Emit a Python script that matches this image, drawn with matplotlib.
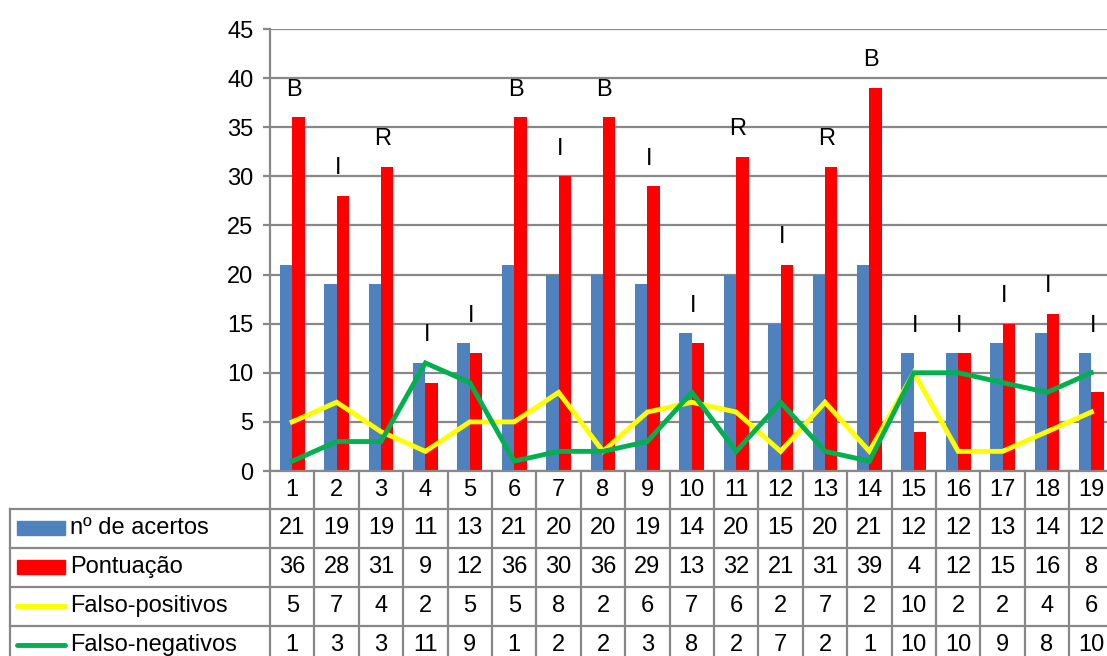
import matplotlib.pyplot as plt
import numpy as np
from matplotlib.transforms import blended_transform_factory
from matplotlib.patches import Rectangle
from matplotlib.lines import Line2D

plt.rcParams['font.family'] = ['Liberation Sans', 'DejaVu Sans']

categorias = [str(i) for i in range(1, 20)]
acertos = [21, 19, 19, 11, 13, 21, 20, 20, 19, 14, 20, 15, 20, 21, 12, 12, 13, 14, 12]
pontuacao = [36, 28, 31, 9, 12, 36, 30, 36, 29, 13, 32, 21, 31, 39, 4, 12, 15, 16, 8]
falso_pos = [5, 7, 4, 2, 5, 5, 8, 2, 6, 7, 6, 2, 7, 2, 10, 2, 2, 4, 6]
falso_neg = [1, 3, 3, 11, 9, 1, 2, 2, 3, 8, 2, 7, 2, 1, 10, 10, 9, 8, 10]
classes = ['B', 'I', 'R', 'I', 'I', 'B', 'I', 'B', 'I', 'I', 'R', 'I', 'R', 'B', 'I', 'I', 'I', 'I', 'I']

azul = '#4F81BD'
vermelho = '#FF0000'
amarelo = '#FFFF00'
verde = '#00B050'
cinza = '#888888'
fs = 17

W, H = 1107, 656
fig = plt.figure(figsize=(W / 100, H / 100), dpi=100)

# plot area in pixels (chart is cropped on the right like the original)
x0, ytop, ybot = 270, 29, 471
cat_w = 44.4
n = len(categorias)
ax = fig.add_axes([x0 / W, 1 - ybot / H, n * cat_w / W, (ybot - ytop) / H])

x = np.arange(1, n + 1)
bw = 0.28
ax.bar(x - bw / 2, acertos, bw, color=azul, zorder=2)
ax.bar(x + bw / 2, pontuacao, bw, color=vermelho, zorder=2)
ax.plot(x, falso_pos, color=amarelo, lw=3.5, zorder=3, solid_joinstyle='miter')
ax.plot(x, falso_neg, color=verde, lw=3.5, zorder=4, solid_joinstyle='miter')

for xi, c, a, p in zip(x, classes, acertos, pontuacao):
    ax.text(xi + 0.03, max(a, p) + 2.8, c, ha='center', va='center', fontsize=fs)

ax.set_xlim(0.5, n + 0.5)
ax.set_ylim(0, 45)
ax.set_yticks(range(0, 46, 5))
ax.set_xticks([])
ax.grid(axis='y', color=cinza, lw=1.6, zorder=0)
for s in ['top', 'right']:
    ax.spines[s].set_visible(False)
for s in ['left', 'bottom']:
    ax.spines[s].set_color(cinza)
    ax.spines[s].set_linewidth(1.6)
ax.tick_params(axis='y', labelsize=fs, length=5, width=1.6, color=cinza, pad=7)

# data table under the chart
tr = blended_transform_factory(ax.transData, fig.transFigure)
fy = lambda py: 1 - py / H
fx = lambda px: px / W
lkw = dict(color=cinza, lw=1.6, clip_on=False)

row_tops = [509, 548, 587, 626]
row_mid = [528, 567, 606, 645]
for b in np.arange(0.5, n + 1, 1):
    fig.add_artist(Line2D([b, b], [fy(ybot), 0], transform=tr, **lkw))
fig.add_artist(Line2D([fx(10), fx(10)], [fy(509), 0], **lkw))
for yt in row_tops:
    fig.add_artist(Line2D([fx(10), 1], [fy(yt), fy(yt)], **lkw))

for xi, c in zip(x, categorias):
    fig.text(xi, fy(490), c, transform=tr, ha='center', va='center', fontsize=fs)

rows = [('nº de acertos', acertos, 'bar', azul),
        ('Pontuação', pontuacao, 'bar', vermelho),
        ('Falso-positivos', falso_pos, 'line', amarelo),
        ('Falso-negativos', falso_neg, 'line', verde)]
for (nome, vals, tipo, cor), ym in zip(rows, row_mid):
    if tipo == 'bar':
        fig.add_artist(Rectangle((fx(17), fy(ym + 7)), fx(48), 14 / H, color=cor))
    else:
        fig.add_artist(Line2D([fx(17), fx(65)], [fy(ym), fy(ym)], color=cor, lw=3.5,
                              solid_capstyle='round'))
    fig.text(fx(70), fy(ym), nome, ha='left', va='center', fontsize=fs)
    for xi, v in zip(x, vals):
        fig.text(xi, fy(ym), str(v), transform=tr, ha='center', va='center', fontsize=fs)

fig.savefig('out.png', dpi=100)
